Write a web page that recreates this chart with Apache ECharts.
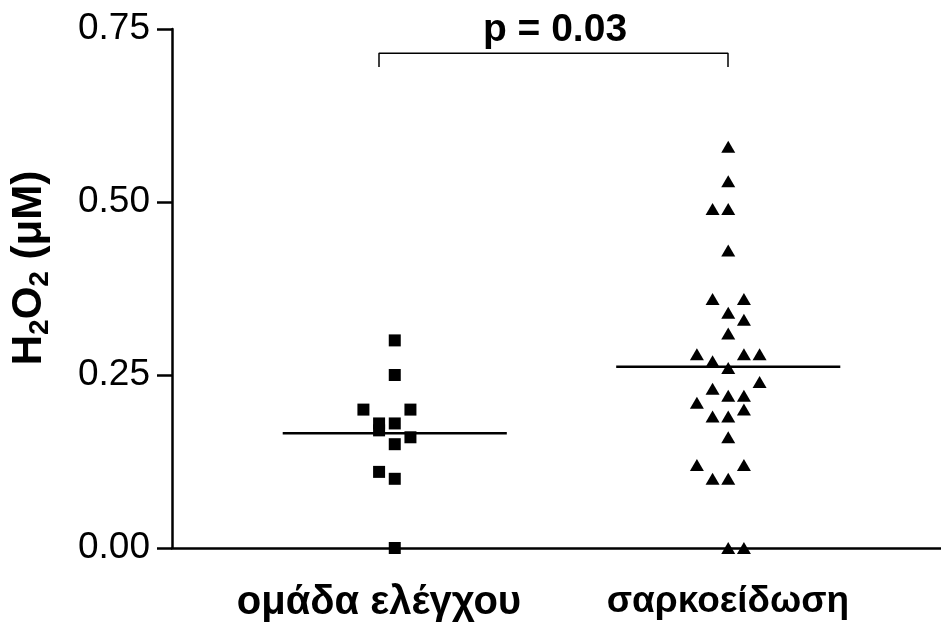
<!DOCTYPE html>
<html>
<head>
<meta charset="utf-8">
<script src="https://cdn.jsdelivr.net/npm/echarts@6/dist/echarts.min.js"></script>
<style>
  html, body { margin: 0; padding: 0; background: #fff; }
  #main { width: 941px; height: 628px; }
</style>
</head>
<body>
<div id="main"></div>
<script>
// groups on the x axis
var categories = ['ομάδα ελέγχου', 'σαρκοείδωση'];
var yTicks = [0, 0.25, 0.5, 0.75];

// control group (squares): value + column of the dot in the swarm
var controlValues = [0.30, 0.25, 0.20, 0.20, 0.18, 0.18, 0.17, 0.16, 0.15, 0.11, 0.10, 0.00];
var controlCols   = [0, 0, -2, 1, -1, 0, -1, 1, 0, -1, 0, 0];
var controlMean = 0.166;

// sarcoidosis group (triangles)
var sarcValues = [0.58, 0.53, 0.49, 0.49, 0.43, 0.36, 0.36, 0.34, 0.33, 0.31,
                  0.28, 0.28, 0.28, 0.27, 0.26, 0.24, 0.23, 0.22, 0.22, 0.21,
                  0.20, 0.19, 0.19, 0.16, 0.12, 0.12, 0.10, 0.10, 0.00, 0.00];
var sarcCols   = [0, 0, -1, 0, 0, -1, 1, 0, 1, 0,
                  -2, 1, 2, -1, 0, 2, -1, 0, 1, -2,
                  1, -1, 0, 0, -2, 1, -1, 0, 0, 1];
var sarcMean = 0.262;

var pLabel = 'p = 0.03';
var bracketTop = 0.715, bracketBottom = 0.695;

var colStep = 0.047;   // spacing between swarm columns (x units)
var meanHalf = 0.336;  // half width of the mean line
var FONT = 'Liberation Sans, Arial, sans-serif';

var myChart = echarts.init(document.getElementById('main'));

function swarm(values, cols, centre) {
  return values.map(function (v, i) { return [centre + cols[i] * colStep, v]; });
}

var option = {
  animation: false,
  backgroundColor: '#fff',
  grid: [
    { left: 172, right: 0, top: 29, bottom: 80 },
    { left: 204.5, width: 698, top: 29, bottom: 80 }
  ],
  xAxis: [
    {
      type: 'value', gridIndex: 0, min: 0.332, max: 2.638,
      axisLine: { onZero: false, lineStyle: { color: '#000', width: 2.5 } },
      axisTick: { show: false }, axisLabel: { show: false }, splitLine: { show: false }
    },
    {
      type: 'category', gridIndex: 1, data: categories,
      axisLine: { show: false }, axisTick: { show: false },
      axisLabel: {
        interval: 0, hideOverlap: false,
        margin: 35, color: '#000', fontFamily: FONT,
        fontWeight: 'bold', fontSize: 40,
        // second label is set a little narrower, as in the original
        formatter: function (v, i) { return i === 1 ? '{n|' + v + '}' : v; },
        rich: {
          n: { fontFamily: FONT, fontWeight: 'bold', fontSize: 37, color: '#000' }
        }
      }
    }
  ],
  yAxis: [
    {
      type: 'value', gridIndex: 0, min: 0, max: 0.75, interval: 0.25,
      axisLine: { show: true, lineStyle: { color: '#000', width: 2.5 } },
      axisTick: { show: true, length: 15, lineStyle: { color: '#000', width: 2.5 } },
      splitLine: { show: false },
      axisLabel: {
        margin: 22, color: '#000', fontFamily: FONT, fontSize: 37,
        formatter: function (v) { return yTicks.indexOf(v) >= 0 ? v.toFixed(2) : ''; }
      }
    },
    { type: 'value', gridIndex: 1, min: 0, max: 0.75, show: false }
  ],
  graphic: [
    {
      type: 'text', x: 29, y: 268, rotation: Math.PI / 2,
      style: {
        text: '{b|H}{s|2}{b|O}{s|2}{b| (μM)}',
        align: 'center', verticalAlign: 'middle',
        rich: {
          b: { fontFamily: FONT, fontWeight: 'bold', fontSize: 42, fill: '#000', lineHeight: 50, verticalAlign: 'middle' },
          s: { fontFamily: FONT, fontWeight: 'bold', fontSize: 28, fill: '#000', lineHeight: 34, verticalAlign: 'bottom' }
        }
      }
    },
    {
      type: 'text', x: 555, y: 30,
      style: {
        text: pLabel, align: 'center', verticalAlign: 'middle',
        fontFamily: FONT, fontWeight: 'bold', fontSize: 39, fill: '#000'
      }
    }
  ],
  series: [
    {
      name: 'control', type: 'scatter', xAxisIndex: 0, yAxisIndex: 0,
      symbol: 'rect', symbolSize: 12, itemStyle: { color: '#000', opacity: 1 },
      data: swarm(controlValues, controlCols, 1), z: 3
    },
    {
      name: 'sarc', type: 'scatter', xAxisIndex: 0, yAxisIndex: 0,
      symbol: 'triangle', symbolSize: [14, 12], itemStyle: { color: '#000', opacity: 1 },
      data: swarm(sarcValues, sarcCols, 2), z: 3
    },
    {
      name: 'control mean', type: 'line', xAxisIndex: 0, yAxisIndex: 0,
      symbol: 'none', lineStyle: { color: '#000', width: 2.5 },
      data: [[1 - meanHalf, controlMean], [1 + meanHalf, controlMean]]
    },
    {
      name: 'sarc mean', type: 'line', xAxisIndex: 0, yAxisIndex: 0,
      symbol: 'none', lineStyle: { color: '#000', width: 2.5 },
      data: [[2 - meanHalf, sarcMean], [2 + meanHalf, sarcMean]]
    },
    {
      name: 'bracket', type: 'line', xAxisIndex: 1, yAxisIndex: 1,
      symbol: 'none', lineStyle: { color: '#000', width: 1.5 },
      data: [[0, bracketBottom], [0, bracketTop], [1, bracketTop], [1, bracketBottom]]
    }
  ]
};

option && myChart.setOption(option);
</script>
</body>
</html>
